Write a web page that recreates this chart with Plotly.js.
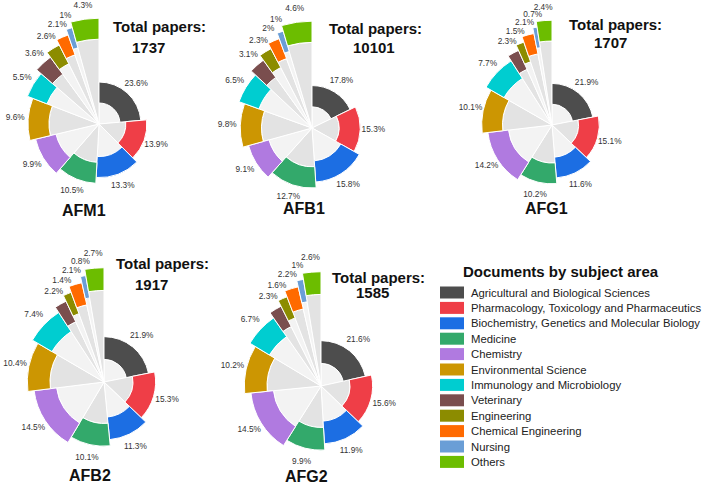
<!DOCTYPE html>
<html>
<head>
<meta charset="utf-8">
<script src="https://cdn.plot.ly/plotly-3.0.1.min.js"></script>
<style>
html,body{margin:0;padding:0;background:#fff;overflow:hidden;width:708px;height:485px;}
#wrap{position:relative;width:708px;height:485px;overflow:hidden;}
#chart{position:absolute;left:-40px;top:-40px;width:788px;height:565px;}
</style>
</head>
<body>
<div id="wrap"><div id="chart"></div></div>
<script>
// ---------- DATA ----------
const categories = [
  'Agricultural and Biological Sciences',
  'Pharmacology, Toxicology and Pharmaceutics',
  'Biochemistry, Genetics and Molecular Biology',
  'Medicine',
  'Chemistry',
  'Environmental Science',
  'Immunology and Microbiology',
  'Veterinary',
  'Engineering',
  'Chemical Engineering',
  'Nursing',
  'Others'
];
const toxins = ['AFM1', 'AFB1', 'AFG1', 'AFB2', 'AFG2'];
const totalPapers = [1737, 10101, 1707, 1917, 1585];
const AFM1 = [23.6, 13.9, 13.3, 10.5, 9.9, 9.6, 5.5, 3.6, 2.6, 2.1, 1, 4.3];
const AFB1 = [17.8, 15.3, 15.8, 12.7, 9.1, 9.8, 6.5, 3.1, 2.3, 2, 1, 4.6];
const AFG1 = [21.9, 15.1, 11.6, 10.2, 14.2, 10.1, 7.7, 2.3, 1.5, 2.1, 0.7, 2.4];
const AFB2 = [21.9, 15.3, 11.3, 10.1, 14.5, 10.4, 7.4, 2.2, 1.4, 2.1, 0.8, 2.7];
const AFG2 = [21.6, 15.6, 11.9, 9.9, 14.5, 10.2, 6.7, 2.3, 1.6, 2.2, 1, 2.6];
const seriesValues = [AFM1, AFB1, AFG1, AFB2, AFG2];

// ---------- STYLE ----------
const colors = ['#4D4D4D', '#EF3E47', '#1C6EE3', '#33A96B', '#B07AE0', '#CC9602',
                '#00CDD0', '#7A4E4E', '#8C8C00', '#FF6A00', '#6A9ED6', '#6CBD00'];
const greys = ['#F3F3F3', '#E3E3E3'];
const W = 708, H = 485, M = 40;          // visible size, hidden bleed around it
const FW = W + 2 * M, FH = H + 2 * M;    // full plot size
const FONT = 'Liberation Sans, Arial, sans-serif';

// subplot geometry in visible pixels: centre, pixels per radial unit, text spots
const geo = [
  {cx: 99,  cy: 124, s: 1.00, tx: 159, ty: 26,  nx: 148, ny: 47,  lx: 84,  ly: 210},
  {cx: 312, cy: 128, s: 1.01, tx: 375, ty: 28,  nx: 374, ny: 47,  lx: 304, ly: 208},
  {cx: 552, cy: 125, s: 0.99, tx: 615, ty: 25,  nx: 610, ny: 42,  lx: 546, ly: 208},
  {cx: 104, cy: 382, s: 1.08, tx: 162, ty: 263, nx: 151, ny: 284, lx: 90,  ly: 475},
  {cx: 321, cy: 386, s: 1.08, tx: 378, ty: 277, nx: 372, ny: 292, lx: 306, ly: 476}
];
const RMAX = 126;   // radial axis range (units)
// radial design of the spiral bars (radial units)
const ringOuter0 = 42, ringStep = 5.8, ringThick = 21, labelGap = 13;

const px = x => (x + M) / FW;
const py = y => 1 - (y + M) / FH;

const data = [];
const layout = {
  width: FW, height: FH,
  margin: {l: 0, r: 0, t: 0, b: 0},
  paper_bgcolor: '#ffffff',
  showlegend: false,
  font: {family: FONT},
  annotations: [],
  shapes: []
};

seriesValues.forEach((vals, k) => {
  const g = geo[k];
  const rc = RMAX * g.s;
  const pid = k === 0 ? 'polar' : 'polar' + (k + 1);
  const sum = vals.reduce((a, b) => a + b, 0);
  let cum = 0;
  const theta = [], width = [], inner = [], labR = [];
  vals.forEach((v, i) => {
    theta.push((cum + v / 2) / sum * 360);
    width.push(v / sum * 360);
    cum += v;
    const o = ringOuter0 + ringStep * i;
    inner.push(o - ringThick);
    labR.push(o + labelGap);
  });
  // grey background sectors
  data.push({
    type: 'barpolar', subplot: pid,
    r: inner, theta: theta, width: width, base: 0,
    marker: {color: vals.map((v, i) => greys[i % 2]), line: {color: '#ffffff', width: 1}},
    hoverinfo: 'skip'
  });
  // coloured bars
  data.push({
    type: 'barpolar', subplot: pid,
    r: inner.map(() => ringThick), theta: theta, width: width, base: inner,
    marker: {color: colors, line: {color: '#ffffff', width: 1}},
    text: categories, hoverinfo: 'text'
  });
  // percentage labels
  data.push({
    type: 'scatterpolar', subplot: pid, mode: 'text',
    r: labR, theta: theta,
    text: vals.map(v => v + '%'),
    textfont: {size: 8.3, color: '#333333', family: FONT},
    cliponaxis: false, hoverinfo: 'skip'
  });

  layout[pid] = {
    domain: {x: [px(g.cx - rc), px(g.cx + rc)], y: [py(g.cy + rc), py(g.cy - rc)]},
    bgcolor: 'rgba(0,0,0,0)',
    barmode: 'overlay',
    radialaxis: {visible: false, range: [0, RMAX], showgrid: false},
    angularaxis: {visible: false, rotation: 90, direction: 'clockwise', thetaunit: 'degrees', showgrid: false}
  };

  layout.annotations.push(
    {xref: 'paper', yref: 'paper', x: px(g.tx), y: py(g.ty), text: '<b>Total papers:</b>', showarrow: false,
     xanchor: 'center', yanchor: 'middle', font: {size: 15, color: '#111', family: FONT}},
    {xref: 'paper', yref: 'paper', x: px(g.nx), y: py(g.ny), text: '<b>' + totalPapers[k] + '</b>', showarrow: false,
     xanchor: 'center', yanchor: 'middle', font: {size: 15, color: '#111', family: FONT}},
    {xref: 'paper', yref: 'paper', x: px(g.lx), y: py(g.ly), text: '<b>' + toxins[k] + '</b>', showarrow: false,
     xanchor: 'center', yanchor: 'middle', font: {size: 16, color: '#111', family: FONT}}
  );
});

// ---------- legend (drawn as shapes + text) ----------
layout.annotations.push({xref: 'paper', yref: 'paper', x: px(561), y: py(271), text: '<b>Documents by subject area</b>',
  showarrow: false, xanchor: 'center', yanchor: 'middle', font: {size: 15, color: '#111', family: FONT}});
categories.forEach((c, i) => {
  const yc = 292.5 + 15.4 * i;
  layout.shapes.push({type: 'rect', xref: 'paper', yref: 'paper',
    x0: px(440), x1: px(464), y0: py(yc + 6), y1: py(yc - 6),
    fillcolor: colors[i], line: {width: 0}});
  layout.annotations.push({xref: 'paper', yref: 'paper', x: px(469), y: py(yc), text: c, showarrow: false,
    xanchor: 'left', yanchor: 'middle', font: {size: 11.3, color: '#222', family: FONT}});
});

Plotly.newPlot('chart', data, layout, {staticPlot: true, displayModeBar: false});
</script>
</body>
</html>
